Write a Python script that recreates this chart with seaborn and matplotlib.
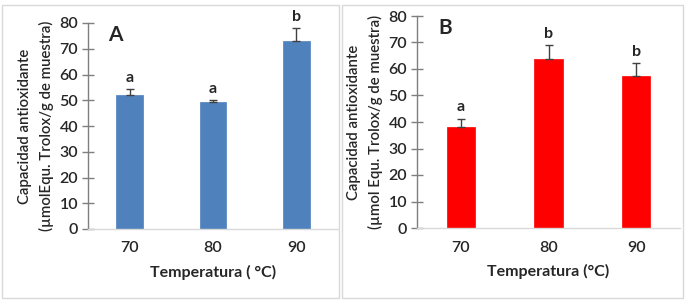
import matplotlib
matplotlib.use("Agg")
import matplotlib.pyplot as plt
import seaborn as sns
import pandas as pd
from matplotlib.patches import Rectangle

# === Daten ===
temperaturas = ["70", "80", "90"]

valores_a = [52.0, 49.5, 73.0]
error_a = [2.4, 0.7, 5.0]
letras_a = ["a", "a", "b"]

valores_b = [38.0, 63.7, 57.5]
error_b = [3.3, 5.3, 4.6]
letras_b = ["a", "b", "b"]

color_a = "#4F81BD"
color_b = "#FF0000"

sns.set_theme(style="white")
plt.rcParams["font.family"] = ["Lato", "DejaVu Sans"]


def panel(ax, valores, errores, letras, color, letra_panel, ylabel, xlabel):
    df = pd.DataFrame({"Temperatura": temperaturas, "Valor": valores})
    sns.barplot(data=df, x="Temperatura", y="Valor", color=color,
                width=0.32, saturation=1, errorbar=None, ax=ax,
                edgecolor=color, linewidth=0.5)
    x = range(len(temperaturas))
    ax.errorbar(x, valores, yerr=[[0] * len(valores), errores], fmt="none",
                ecolor="#404040", elinewidth=1.0, capsize=3, capthick=1.0)
    for xi, v, e, l in zip(x, valores, errores, letras):
        ax.annotate(l, (xi, v + e), xytext=(0, 3), textcoords="offset points",
                    ha="center", va="bottom", fontsize=11.5, fontweight="bold")
    ax.set_ylim(0, 80)
    ax.set_yticks(range(0, 81, 10))
    ax.set_xlim(-0.5, 2.5)
    for s in ["top", "right"]:
        ax.spines[s].set_visible(False)
    ax.spines["left"].set_color("#7f7f7f")
    ax.spines["left"].set_linewidth(1.0)
    ax.spines["bottom"].set_color("#d9d9d9")
    ax.spines["bottom"].set_linewidth(1.0)
    ax.tick_params(axis="y", direction="inout", length=8, width=1.0,
                   color="#7f7f7f", labelsize=11.5, pad=3, left=True)
    ax.tick_params(axis="x", length=0, labelsize=11.5, pad=9)
    for t in ax.get_xticklabels() + ax.get_yticklabels():
        t.set_fontweight("semibold")
    ax.set_ylabel(ylabel, fontsize=10.8, fontweight="semibold", labelpad=4,
                  linespacing=1.55)
    ax.set_xlabel(xlabel, fontsize=11.5, fontweight="bold", labelpad=7)
    ax.text(0.08, 0.99, letra_panel, transform=ax.transAxes, fontsize=15,
            fontweight="bold", va="top", ha="left")


fig = plt.figure(figsize=(6.9, 3.03), dpi=100)
fig.add_artist(Rectangle((2 / 690, 1 - 298 / 303), 337 / 690, 293 / 303,
                         transform=fig.transFigure, fill=False,
                         edgecolor="#d9d9d9", linewidth=1.0))
fig.add_artist(Rectangle((342 / 690, 1 - 298 / 303), 341 / 690, 293 / 303,
                         transform=fig.transFigure, fill=False,
                         edgecolor="#d9d9d9", linewidth=1.0))

ax_a = fig.add_axes([88 / 690, 1 - 229 / 303, 250 / 690, 206 / 303])
ax_b = fig.add_axes([417 / 690, 1 - 228 / 303, 263 / 690, 212 / 303])

panel(ax_a, valores_a, error_a, letras_a, color_a, "A",
      "Capacidad antioxidante\n(µmolEqu. Trolox/g de muestra)",
      "Temperatura ( °C)")
panel(ax_b, valores_b, error_b, letras_b, color_b, "B",
      "Capacidad antioxidante\n(µmol Equ. Trolox/g de muestra)",
      "Temperatura (°C)")

fig.savefig("out.png", dpi=100)
